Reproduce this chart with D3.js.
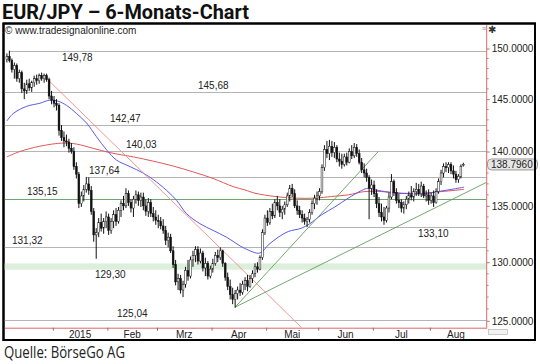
<!DOCTYPE html>
<html>
<head>
<meta charset="utf-8">
<script src="https://cdn.jsdelivr.net/npm/d3@7"></script>
<style>
  body { margin: 0; background: #fff; }
  text { font-family: "Liberation Sans", Arial, sans-serif; }
</style>
</head>
<body>
<svg id="chart" width="540" height="364"></svg>
<script>
// EUR/JPY daily bars, 5 Dec 2014 .. 20 Aug 2015 (one entry per weekday)
const opens = [
  148.9,149.2,148.8,147.9,148.3,147.0,147.6,146.0,145.8,146.5,146.1,146.6,147.0,146.8,147.3,147.0,147.3,146.9,145.3,
  144.9,144.6,144.4,142.0,141.3,141.0,140.9,140.3,140.0,138.6,137.9,135.2,135.9,136.5,137.0,136.4,134.5,132.4,132.6,133.5,133.0,133.6,
  134.0,132.8,133.6,134.2,133.6,134.6,135.2,135.0,136.1,135.3,134.8,135.6,136.0,135.5,135.8,135.0,134.5,135.3,134.3,134.0,
  133.7,133.6,133.2,132.8,131.9,132.2,131.0,129.8,128.3,128.6,127.6,128.1,129.3,128.8,130.2,130.6,131.1,130.1,130.8,129.5,129.9,128.8,
  129.4,129.9,130.6,130.4,131.0,129.9,128.7,127.9,127.2,126.8,127.3,127.6,127.4,128.1,128.4,127.9,128.6,129.0,129.6,129.4,130.4,132.6,
  133.9,133.5,134.5,134.1,135.3,135.0,134.4,134.7,135.1,135.9,136.6,136.1,135.0,134.6,134.2,133.9,133.6,133.8,134.4,135.2,135.7,
  135.9,136.3,138.5,140.2,139.8,140.5,139.9,140.4,139.3,139.1,138.8,139.5,139.0,140.0,139.6,140.4,139.8,139.0,138.3,138.0,137.6,136.6,
  136.9,136.1,135.2,134.4,134.0,133.7,134.8,135.8,137.2,136.2,135.5,135.3,134.8,135.1,135.6,136.0,135.8,136.3,136.5,136.1,136.8,135.9,136.0,
  135.5,135.9,135.3,136.3,137.2,138.0,138.6,138.5,138.8,138.2,137.9,137.4,137.7,138.7
];
const highs = [
  149.5,149.78,149.0,148.6,148.5,147.9,147.8,146.6,146.9,147.0,146.8,147.3,147.4,147.5,147.6,147.5,147.5,147.1,145.8,
  145.3,145.0,144.6,142.5,141.9,141.6,141.2,140.8,140.4,139.0,138.1,136.3,136.9,137.64,137.6,136.8,134.8,133.0,133.9,134.3,133.9,134.5,
  134.3,133.9,134.6,134.8,134.9,135.5,135.9,136.6,136.4,135.6,135.9,136.4,136.3,136.2,136.2,135.6,135.7,135.6,134.9,134.6,
  134.2,134.0,133.8,133.2,132.6,132.5,131.4,130.2,129.0,128.9,128.4,129.6,130.2,130.5,131.0,131.4,131.4,131.2,131.0,130.4,130.1,129.7,
  130.3,130.9,131.1,131.3,131.1,130.0,129.1,128.5,127.8,127.6,127.9,128.2,128.4,128.7,128.9,128.9,129.3,129.9,130.0,130.6,132.9,134.2,
  134.6,134.8,135.2,135.6,135.9,135.6,135.0,135.4,136.2,136.9,137.0,136.5,135.5,135.0,134.6,134.3,134.0,134.7,135.5,136.0,136.3,
  136.6,138.8,140.6,141.0,141.1,141.0,140.9,140.6,139.9,139.8,139.8,139.9,140.3,140.6,140.8,140.7,140.2,139.4,138.9,138.4,137.8,137.4,
  137.3,136.5,135.8,135.2,134.9,135.0,136.2,137.9,137.4,136.6,136.1,135.6,135.4,135.9,136.3,136.8,136.6,137.1,137.0,137.2,137.0,136.4,136.5,
  136.2,136.4,136.6,137.5,138.3,138.9,139.0,139.0,139.0,138.7,138.2,137.9,138.8,138.95
];
const lows = [
  148.6,148.6,147.6,147.0,146.7,146.6,145.6,145.0,145.5,145.8,145.7,146.2,146.4,146.5,146.8,146.6,146.7,145.0,144.5,
  144.2,143.9,141.5,141.0,140.4,140.5,139.9,139.8,138.3,137.5,134.8,134.9,135.4,136.2,136.0,134.2,131.8,130.3,132.2,132.7,132.5,133.0,
  132.4,132.5,133.0,133.2,133.4,134.0,134.6,134.8,135.0,134.4,134.0,135.2,135.0,134.9,134.6,134.1,134.0,134.0,133.6,133.3,
  133.0,132.9,132.5,131.5,131.3,130.8,129.5,128.0,127.6,127.3,127.0,127.8,128.4,128.6,129.6,130.0,129.8,129.9,129.2,128.8,128.5,128.6,
  129.1,129.7,130.0,130.2,129.6,128.4,127.6,126.8,126.4,126.1,126.8,127.1,127.2,127.6,127.5,127.8,128.2,128.7,129.1,129.3,130.2,132.4,
  133.2,133.3,133.8,133.9,134.6,134.0,133.8,134.2,134.9,135.4,135.8,134.8,134.2,133.9,133.5,133.3,133.1,133.5,134.2,134.7,135.1,
  135.5,136.1,138.2,139.4,139.2,139.5,139.4,139.0,138.6,138.4,138.6,138.7,138.9,139.3,139.4,139.5,138.8,138.0,137.6,137.2,133.8,136.0,
  135.8,134.8,134.0,133.6,133.3,133.5,134.4,135.6,135.9,135.2,134.8,134.4,134.3,134.7,135.2,135.5,135.4,135.9,135.9,135.8,135.7,135.4,135.1,
  135.2,134.9,135.2,136.1,136.9,137.6,138.1,138.0,137.9,137.5,137.1,137.1,137.5,138.6
];
const closes = [
  149.2,148.8,147.9,148.3,147.0,147.6,146.0,145.8,146.5,146.1,146.6,147.0,146.8,147.3,147.0,147.3,146.9,145.3,144.9,
  144.6,144.4,142.0,141.3,141.0,140.9,140.3,140.0,138.6,137.9,135.2,135.9,136.5,137.0,136.4,134.5,132.4,132.6,133.5,133.0,133.6,134.0,
  132.8,133.6,134.2,133.6,134.6,135.2,135.0,136.1,135.3,134.8,135.6,136.0,135.5,135.8,135.0,134.5,135.3,134.3,134.0,133.7,
  133.6,133.2,132.8,131.9,132.2,131.0,129.8,128.3,128.6,127.6,128.1,129.3,128.8,130.2,130.6,131.1,130.1,130.8,129.5,129.9,128.8,129.4,
  129.9,130.6,130.4,131.0,129.9,128.7,127.9,127.2,126.8,127.3,127.6,127.4,128.1,128.4,127.9,128.6,129.0,129.6,129.4,130.4,132.6,133.9,
  133.5,134.5,134.1,135.3,135.0,134.4,134.7,135.1,135.9,136.6,136.1,135.0,134.6,134.2,133.9,133.6,133.8,134.4,135.2,135.7,135.9,
  136.3,138.5,140.2,139.8,140.5,139.9,140.4,139.3,139.1,138.8,139.5,139.0,140.0,139.6,140.4,139.8,139.0,138.3,138.0,137.6,136.6,136.9,
  136.1,135.2,134.4,134.0,133.7,134.8,135.8,137.2,136.2,135.5,135.3,134.8,135.1,135.6,136.0,135.8,136.3,136.5,136.1,136.8,135.9,136.0,135.5,
  135.9,135.3,136.3,137.2,138.0,138.6,138.5,138.8,138.2,137.9,137.4,137.7,138.6,138.796
];

// moving averages: [bar index, value]
const blueAverage = [
  [0,142.9],[2.5,143.6],[7.9,144.3],[13.3,144.6],[17.3,144.9],[20.6,144.8],[24,144.4],[28.1,143.6],
  [32.1,142.7],[36.1,141.4],[40.2,140.15],[44.2,139.2],[49.6,138.6],[54.9,138.0],[59,137.4],[64.4,136.4],
  [68.4,135.5],[72.4,134.3],[77.8,133.4],[83.1,132.8],[88.5,132.2],[95.9,131.2],[102,130.8],[105.3,131.5],
  [109.4,132.2],[113.4,132.7],[118.8,133.0],[122.1,133.4],[126.9,134.2],[132.2,134.9],[137.6,135.7],[143,136.4],
  [145.6,136.6],[149.7,136.4],[155.1,136.2],[161.8,136.1],[168.5,136.1],[173.9,136.3],[179.3,136.5],[184.3,136.7]
];
const redAverage = [
  [0,139.5],[5.2,140.0],[13.3,140.5],[22.7,140.8],[28.1,140.7],[34.8,140.3],[41.5,139.9],[50.9,139.5],
  [59,139.1],[67,138.65],[75.1,138.1],[83.1,137.5],[91.2,136.75],[95.9,136.45],[100,136.15],[108,135.85],
  [116.1,135.7],[124.2,135.7],[130.9,135.85],[137.6,136.0],[144.3,136.3],[151,136.3],[159.1,136.15],
  [167.2,136.15],[175.3,136.3],[184.3,136.5]
];

// drawn trend lines: [bar index, value]
const redTrend = [[16.1,147.0],[118.8,124.43]];
const greenSteep = [[92,126.15],[149.7,140.0]];
const greenShallow = [[92,126.15],[193.4,137.15]];

// horizontal levels
const levelValues = [149.78, 145.68, 142.47, 140.03, 137.64, 133.10, 131.32, 125.04];
const levelLabels = ["149,78", "145,68", "142,47", "140,03", "137,64", "133,10", "131,32", "125,04"];
const levelStart = [1, null, null, null, 32, 121.3, null, null];
const supportValue = 135.6;
const supportLabel = "135,15";
const bandValues = [129.35, 129.9];
const bandLabel = "129,30";

const monthLabels = ["2015", "Feb", "Mrz", "Apr", "Mai", "Jun", "Jul", "Aug"];
const yTicks = [125, 130, 135, 140, 145, 150];
const lastPrice = "138.7960";

// layout for level labels: [x, offset from line]
const levelLabelPos = [[62, 10.5], [198, -3], [110, -3], [126, -3], [89, -3], [418, 10], [12, -3], [117, -3.5]];

const plot = { left: 4, right: 486.7, top: 24, bottom: 327.7 };

const svg = d3.select("#chart");

// weekdays used as the x axis
const days = d3.timeDay.range(new Date(2014, 11, 5), new Date(2015, 8, 2))
  .filter(d => d.getDay() !== 0 && d.getDay() !== 6);

const x = d3.scaleLinear().domain([-1.17, 193.4]).range([plot.left, plot.right]);
const y = d3.scaleLog().domain([125, 150]).range([320.8, 48.5]);

// title
svg.append("text")
  .attr("x", 2).attr("y", 18.5)
  .style("font-family", "Roboto, sans-serif")
  .style("font-weight", 700)
  .style("font-size", "19.5px")
  .attr("fill", "#111")
  .attr("textLength", 247)
  .attr("lengthAdjust", "spacingAndGlyphs")
  .text("EUR/JPY – 6-Monats-Chart");

// frame
svg.append("rect")
  .attr("x", 3.5).attr("y", 23.5)
  .attr("width", 531.5).attr("height", 316.5)
  .attr("fill", "#fff").attr("stroke", "#000").attr("stroke-width", 2);

svg.append("defs").append("clipPath").attr("id", "clip")
  .append("rect")
  .attr("x", plot.left).attr("y", plot.top)
  .attr("width", plot.right - plot.left).attr("height", plot.bottom - plot.top);

const g = svg.append("g").attr("clip-path", "url(#clip)");

// green band
g.append("rect")
  .attr("x", plot.left).attr("width", plot.right - plot.left)
  .attr("y", y(bandValues[1])).attr("height", y(bandValues[0]) - y(bandValues[1]))
  .attr("fill", "#dcefdc");

// gray levels
levelValues.forEach((v, i) => {
  const yy = Math.round(y(v)) + 0.5;
  g.append("line")
    .attr("x1", levelStart[i] === null ? plot.left : x(levelStart[i]))
    .attr("x2", plot.right)
    .attr("y1", yy).attr("y2", yy)
    .attr("stroke", "#b4b4b4").attr("stroke-width", 1);
});

// green support
const ySup = Math.round(y(supportValue)) + 0.5;
g.append("line")
  .attr("x1", plot.left).attr("x2", plot.right)
  .attr("y1", ySup).attr("y2", ySup)
  .attr("stroke", "#6fa56f").attr("stroke-width", 1.2);

// moving averages
const avgLine = d3.line()
  .x(d => x(d[0]))
  .y(d => y(d[1]))
  .curve(d3.curveCatmullRom);

g.append("path").datum(redAverage)
  .attr("d", avgLine).attr("fill", "none")
  .attr("stroke", "#e05858").attr("stroke-width", 1);

g.append("path").datum(blueAverage)
  .attr("d", avgLine).attr("fill", "none")
  .attr("stroke", "#5a5ae8").attr("stroke-width", 1);

// trend lines
const straight = d3.line().x(d => x(d[0])).y(d => y(d[1]));
g.append("path").datum(redTrend).attr("d", straight)
  .attr("fill", "none").attr("stroke", "#f08a8a").attr("stroke-width", 0.9);
[greenSteep, greenShallow].forEach(t => {
  g.append("path").datum(t).attr("d", straight)
    .attr("fill", "none").attr("stroke", "#5f9f5f").attr("stroke-width", 0.9);
});

// candles
const bars = closes.map((c, i) => ({ i, o: opens[i], h: highs[i], l: lows[i], c }));
const candle = g.selectAll("g.candle").data(bars).join("g").attr("class", "candle");

candle.append("line")
  .attr("x1", d => x(d.i)).attr("x2", d => x(d.i))
  .attr("y1", d => y(d.h)).attr("y2", d => y(d.l))
  .attr("stroke", "#111").attr("stroke-width", 1);

candle.append("rect")
  .attr("x", d => x(d.i) - 0.9)
  .attr("width", 1.8)
  .attr("y", d => y(Math.max(d.o, d.c)))
  .attr("height", d => Math.max(1, Math.abs(y(d.o) - y(d.c))))
  .attr("fill", d => d.c >= d.o ? "#fff" : "#111")
  .attr("stroke", "#111").attr("stroke-width", 0.5);

// level labels
const labelFont = sel => sel.style("font-size", "10px").attr("fill", "#222");
levelValues.forEach((v, i) => {
  svg.append("text")
    .attr("x", levelLabelPos[i][0])
    .attr("y", y(v) + levelLabelPos[i][1])
    .call(labelFont)
    .text(levelLabels[i]);
});
svg.append("text")
  .attr("x", 27).attr("y", y(supportValue) - 4)
  .call(labelFont).text(supportLabel);
svg.append("text")
  .attr("x", 95).attr("y", y(bandValues[0]) + 8)
  .call(labelFont).text(bandLabel);

svg.append("text")
  .attr("x", 5).attr("y", 34)
  .call(labelFont)
  .text("© www.tradesignalonline.com");

// y axis (right)
const yAxis = d3.axisRight(y)
  .tickValues(yTicks)
  .tickFormat(d3.format(".4f"))
  .tickSize(3)
  .tickPadding(2);

const yAxisG = svg.append("g")
  .attr("transform", `translate(${plot.right},0)`)
  .call(yAxis);
yAxisG.select(".domain").remove();
yAxisG.selectAll("line").attr("stroke", "#888");
yAxisG.selectAll("text")
  .style("font-family", "'Liberation Sans', Arial, sans-serif")
  .style("font-size", "10px").attr("fill", "#222");

svg.append("g")
  .selectAll("line")
  .data(d3.range(125, 151).filter(v => v % 5 !== 0))
  .join("line")
  .attr("x1", plot.right).attr("x2", plot.right + 2)
  .attr("y1", d => y(d)).attr("y2", d => y(d))
  .attr("stroke", "#999");

svg.append("line")
  .attr("x1", plot.right).attr("x2", plot.right)
  .attr("y1", plot.top + 1).attr("y2", plot.bottom)
  .attr("stroke", "#e06666");

// x axis (bottom), ticks at month boundaries, labels at month centres
const monthStarts = [];
days.forEach((d, i) => {
  if (i > 0 && d.getMonth() !== days[i - 1].getMonth()) monthStarts.push(i - 0.5);
});
const tickPos = monthStarts.slice(0, monthLabels.length);

const xAxis = d3.axisBottom(x)
  .tickValues(tickPos)
  .tickFormat("")
  .tickSize(3)
  .tickSizeOuter(0);

const xAxisG = svg.append("g")
  .attr("transform", `translate(0,${plot.bottom})`)
  .call(xAxis);
xAxisG.select(".domain").attr("stroke", "#e06666");
xAxisG.selectAll(".tick line").attr("stroke", "#777");

svg.append("g")
  .selectAll("text")
  .data(monthLabels)
  .join("text")
  .attr("x", (d, i) => x((monthStarts[i] + monthStarts[i + 1]) / 2))
  .attr("y", 338)
  .attr("text-anchor", "middle")
  .call(labelFont)
  .text(d => d);

// last price box
const yLast = y(closes[closes.length - 1]);
svg.append("rect")
  .attr("x", 487.5).attr("y", yLast - 5.5)
  .attr("width", 50).attr("height", 11).attr("rx", 4)
  .attr("fill", "#e6e6e6").attr("stroke", "#9a9a9a");
svg.append("text")
  .attr("x", 491).attr("y", yLast + 3.5)
  .call(labelFont)
  .text(lastPrice);

// small tool icons
svg.append("text").attr("x", 482).attr("y", 31)
  .style("font-size", "7px").attr("fill", "#888").text("≡");
svg.append("text").attr("x", 488).attr("y", 33)
  .style("font-size", "10px").style("font-family", "'DejaVu Sans'")
  .attr("fill", "#333").text("✱");
svg.append("rect")
  .attr("x", 488.5).attr("y", 329.5).attr("width", 19).attr("height", 5)
  .attr("fill", "#f2f2f2").attr("stroke", "#aaa").attr("stroke-width", 0.6);

// outer frame redrawn on top
svg.append("rect")
  .attr("x", 3.5).attr("y", 23.5)
  .attr("width", 531.5).attr("height", 316.5)
  .attr("fill", "none").attr("stroke", "#000").attr("stroke-width", 2);

// source
svg.append("text")
  .attr("x", 4).attr("y", 358)
  .style("font-family", "'Open Sans', sans-serif")
  .style("font-size", "16px")
  .attr("fill", "#222")
  .attr("textLength", 121)
  .attr("lengthAdjust", "spacingAndGlyphs")
  .text("Quelle: BörseGo AG");
</script>
</body>
</html>
